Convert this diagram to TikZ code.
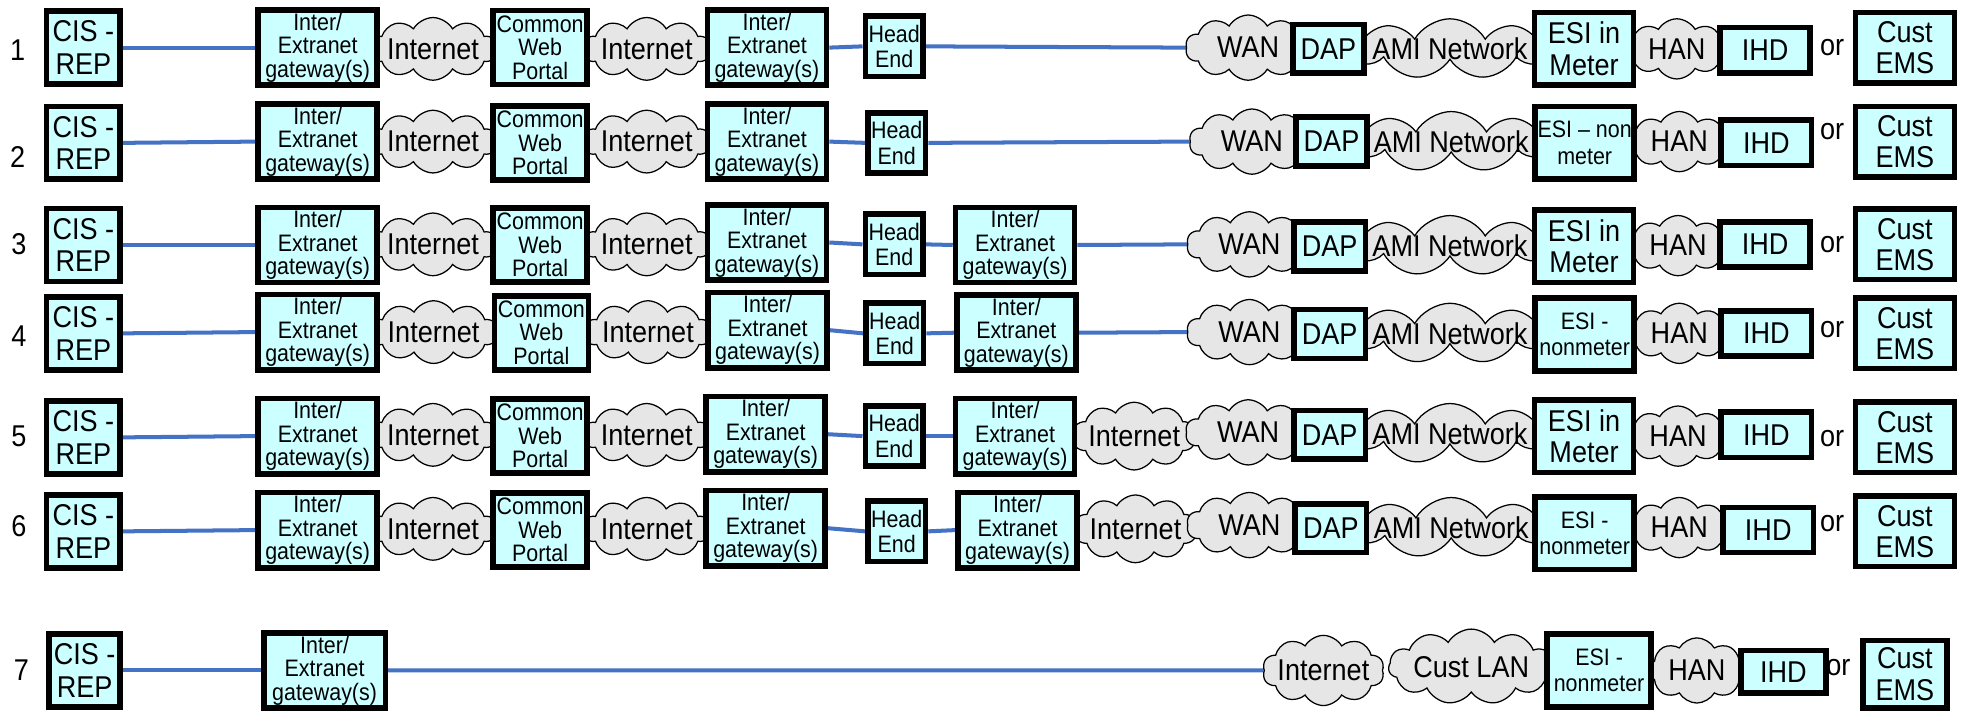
\documentclass[tikz,border=0pt]{standalone}
\usepackage{fontspec}
\setmainfont{Liberation Sans}[FakeStretch=0.9]
\usetikzlibrary{shapes.symbols,backgrounds}
\definecolor{boxcyan}{HTML}{CCFFFF}
\definecolor{cloudgray}{HTML}{E6E6E6}
\definecolor{linkblue}{HTML}{4472C4}
\newcommand{\bigtxt}{\fontsize{24}{26}\selectfont}
\newcommand{\smalltxt}{\fontsize{19}{18.7}\selectfont}
\newcommand{\cl}[1]{\makebox[0pt]{#1}}
\tikzset{
  box/.style={draw=black, line width=4.5pt, fill=boxcyan, inner sep=0pt, align=center},
  cisbox/.style={box, minimum width=59pt, minimum height=58pt, font=\fontsize{24}{26}\selectfont},
  gwbox/.style={box, minimum width=95pt, minimum height=60pt, font=\smalltxt},
  cwpbox/.style={box, minimum width=75pt, minimum height=59pt, font=\smalltxt},
  hebox/.style={box, minimum width=46pt, minimum height=48pt, font=\fontsize{19}{20.5}\selectfont},
  dapbox/.style={box, minimum width=57pt, minimum height=39pt, font=\bigtxt},
  esibox/.style={box, minimum width=79pt, minimum height=58pt, font=\fontsize{24}{25}\selectfont},
  esinm/.style={box, minimum width=79pt, minimum height=58pt, font=\fontsize{19}{21}\selectfont},
  ihdbox/.style={box, minimum width=72pt, minimum height=36pt, font=\bigtxt},
  emsbox/.style={box, minimum width=79pt, minimum height=56pt, font=\fontsize{24}{25}\selectfont},
  net/.style={cloud, cloud puffs=10, cloud puff arc=120, cloud ignores aspect,
    draw=black, line width=1pt, fill=cloudgray, inner sep=0pt, font=\bigtxt},
  inet/.style={net, minimum width=102pt, minimum height=50pt},
  wan/.style={net, minimum width=100pt, minimum height=52pt},
  ami/.style={net, cloud puffs=9, minimum width=158pt, minimum height=48pt},
  han/.style={net, cloud puffs=8, minimum width=78pt, minimum height=48pt},
  plain/.style={inner sep=0pt, font=\bigtxt},
  link/.style={draw=linkblue, line width=3.2pt},
}
\begin{document}
\begin{tikzpicture}[x=1pt, y=-1pt]
\useasboundingbox (0,0) rectangle (1568,569);

% ---------- row 1 ----------
\node[plain] (n1) at (14,40) {1};
\node[inet] (r1i1) at (345.5,39) {\cl{Internet}};
\node[inet] (r1i2) at (516,39) {\cl{Internet}};
\node[wan] (r1wan) at (996,38) {\cl{WAN}};
\node[ami] (r1ami) at (1157,39) {\cl{AMI Network}};
\node[han] (r1han) at (1338,39) {\cl{HAN}};
\node[cisbox] (r1cis) at (66.5,38) {CIS -\\REP};
\node[gwbox] (r1g1) at (253.5,38) {Inter/\\Extranet\\gateway(s)};
\node[cwpbox] (r1cwp) at (431,38) {Common\\Web\\Portal};
\node[gwbox] (r1g2) at (612,38) {Inter/\\Extranet\\gateway(s)};
\node[hebox] (r1he) at (713.5,37) {Head\\End};
\node[dapbox] (r1dap) at (1060,39) {DAP};
\node[esibox] (r1esi) at (1264,39) {ESI in\\Meter};
\node[ihdbox] (r1ihd) at (1408.5,40) {IHD};
\node[plain] (r1or) at (1462,38) {or};
\node[emsbox] (r1ems) at (1520,38) {Cust\\EMS};

% ---------- row 2 ----------
\node[plain] (n2) at (14,125) {2};
\node[inet] (r2i1) at (345.5,113) {\cl{Internet}};
\node[inet] (r2i2) at (516,113) {\cl{Internet}};
\node[wan] (r2wan) at (999,113) {\cl{WAN}};
\node[ami] (r2ami) at (1158,113) {\cl{AMI Network}};
\node[han] (r2han) at (1340,113) {\cl{HAN}};
\node[cisbox] (r2cis) at (66.5,114) {CIS -\\REP};
\node[gwbox] (r2g1) at (253.5,113) {Inter/\\Extranet\\gateway(s)};
\node[cwpbox] (r2cwp) at (431,114) {Common\\Web\\Portal};
\node[gwbox] (r2g2) at (612,113) {Inter/\\Extranet\\gateway(s)};
\node[hebox] (r2he) at (715.5,114) {Head\\End};
\node[dapbox] (r2dap) at (1062.5,113) {DAP};
\node[esinm] (r2esi) at (1264.5,114) {ESI -- non\\meter};
\node[ihdbox] (r2ihd) at (1409.5,114) {IHD};
\node[plain] (r2or) at (1462,105) {or};
\node[emsbox] (r2ems) at (1520,113) {Cust\\EMS};

% ---------- row 3 ----------
\node[plain] (n3) at (15,195) {3};
\node[inet] (r3i1) at (345.5,195) {\cl{Internet}};
\node[inet] (r3i2) at (516,195) {\cl{Internet}};
\node[wan] (r3wan) at (997,195) {\cl{WAN}};
\node[ami] (r3ami) at (1157,196) {\cl{AMI Network}};
\node[han] (r3han) at (1339,196) {\cl{HAN}};
\node[cisbox] (r3cis) at (66.5,195.5) {CIS -\\REP};
\node[gwbox] (r3g1) at (253.5,195.5) {Inter/\\Extranet\\gateway(s)};
\node[cwpbox] (r3cwp) at (431,195.5) {Common\\Web\\Portal};
\node[gwbox] (r3g2) at (612,193.5) {Inter/\\Extranet\\gateway(s)};
\node[hebox] (r3he) at (713.5,195) {Head\\End};
\node[gwbox] (r3g3) at (810,195.5) {Inter/\\Extranet\\gateway(s)};
\node[dapbox] (r3dap) at (1061,196.5) {DAP};
\node[esibox] (r3esi) at (1264,196.5) {ESI in\\Meter};
\node[ihdbox] (r3ihd) at (1408.5,195) {IHD};
\node[plain] (r3or) at (1462,195) {or};
\node[emsbox] (r3ems) at (1520,195) {Cust\\EMS};

% ---------- row 4 ----------
\node[plain] (n4) at (15,268) {4};
\node[inet] (r4i1) at (346,265) {\cl{Internet}};
\node[inet] (r4i2) at (517,265) {\cl{Internet}};
\node[wan] (r4wan) at (997,265) {\cl{WAN}};
\node[ami] (r4ami) at (1157,266) {\cl{AMI Network}};
\node[han] (r4han) at (1340,266) {\cl{HAN}};
\node[cisbox] (r4cis) at (66.5,266) {CIS -\\REP};
\node[gwbox] (r4g1) at (253.5,265) {Inter/\\Extranet\\gateway(s)};
\node[cwpbox] (r4cwp) at (432,265.5) {Common\\Web\\Portal};
\node[gwbox] (r4g2) at (612.5,263.5) {Inter/\\Extranet\\gateway(s)};
\node[hebox] (r4he) at (714,266) {Head\\End};
\node[gwbox] (r4g3) at (811,265.5) {Inter/\\Extranet\\gateway(s)};
\node[dapbox] (r4dap) at (1061,266.5) {DAP};
\node[esinm] (r4esi) at (1264.5,267) {ESI -\\nonmeter};
\node[ihdbox] (r4ihd) at (1409.5,266) {IHD};
\node[plain] (r4or) at (1462,263) {or};
\node[emsbox] (r4ems) at (1520,266) {Cust\\EMS};

% ---------- row 5 ----------
\node[plain] (n5) at (15,348) {5};
\node[inet] (r5i1) at (345.5,347) {\cl{Internet}};
\node[inet] (r5i2) at (516,347) {\cl{Internet}};
\node[inet, minimum width=98pt, minimum height=54pt] (r5i3) at (905,348) {\cl{Internet}};
\node[wan] (r5wan) at (996,345) {\cl{WAN}};
\node[ami] (r5ami) at (1157,346) {\cl{AMI Network}};
\node[han] (r5han) at (1339,348) {\cl{HAN}};
\node[cisbox] (r5cis) at (66.5,349) {CIS -\\REP};
\node[gwbox] (r5g1) at (253.5,348) {Inter/\\Extranet\\gateway(s)};
\node[cwpbox] (r5cwp) at (431,348) {Common\\Web\\Portal};
\node[gwbox] (r5g2) at (611,346.5) {Inter/\\Extranet\\gateway(s)};
\node[hebox] (r5he) at (713.5,348) {Head\\End};
\node[gwbox] (r5g3) at (810,348) {Inter/\\Extranet\\gateway(s)};
\node[dapbox] (r5dap) at (1061,347) {DAP};
\node[esibox] (r5esi) at (1264,348) {ESI in\\Meter};
\node[ihdbox] (r5ihd) at (1409.5,347) {IHD};
\node[plain] (r5or) at (1462,350) {or};
\node[emsbox] (r5ems) at (1520,349) {Cust\\EMS};

% ---------- row 6 ----------
\node[plain] (n6) at (15,420) {6};
\node[inet] (r6i1) at (345.5,422) {\cl{Internet}};
\node[inet] (r6i2) at (516,422) {\cl{Internet}};
\node[inet, minimum width=98pt, minimum height=54pt] (r6i3) at (906,422) {\cl{Internet}};
\node[wan] (r6wan) at (997,419) {\cl{WAN}};
\node[ami] (r6ami) at (1158,421) {\cl{AMI Network}};
\node[han] (r6han) at (1340,421) {\cl{HAN}};
\node[cisbox] (r6cis) at (66.5,424) {CIS -\\REP};
\node[gwbox] (r6g1) at (253.5,423) {Inter/\\Extranet\\gateway(s)};
\node[cwpbox] (r6cwp) at (431,423) {Common\\Web\\Portal};
\node[gwbox] (r6g2) at (611,421.5) {Inter/\\Extranet\\gateway(s)};
\node[hebox] (r6he) at (715.5,424) {Head\\End};
\node[gwbox] (r6g3) at (812,423) {Inter/\\Extranet\\gateway(s)};
\node[dapbox] (r6dap) at (1062,421.5) {DAP};
\node[esinm] (r6esi) at (1264.5,425.5) {ESI -\\nonmeter};
\node[ihdbox] (r6ihd) at (1411,423) {IHD};
\node[plain] (r6or) at (1462,418) {or};
\node[emsbox] (r6ems) at (1520,424) {Cust\\EMS};

% ---------- row 7 ----------
\node[plain] (n7) at (17,535) {7};
\node[inet, minimum width=97pt, minimum height=56pt] (r7inet) at (1056,535) {\cl{Internet}};
\node[net, cloud puffs=11, minimum width=132pt, minimum height=60pt] (r7lan) at (1174,532) {\cl{Cust LAN}};
\node[han, minimum width=76pt, minimum height=52pt] (r7han) at (1354,535) {\cl{HAN}};
\node[cisbox, minimum width=57pt] (r7cis) at (67.5,535) {CIS -\\REP};
\node[gwbox, minimum width=97pt] (r7g1) at (259,535) {Inter/\\Extranet\\gateway(s)};
\node[esinm, minimum width=83pt] (r7esi) at (1276,535) {ESI -\\nonmeter};
\node[ihdbox, minimum width=68pt, minimum height=34pt] (r7ihd) at (1423,536) {IHD};
\node[plain] (r7or) at (1467,533) {or};
\node[emsbox, minimum width=67pt, minimum height=54pt] (r7ems) at (1520,538) {Cust\\EMS};

% ---------- links, under the shapes ----------
\begin{scope}[on background layer]
  \fill[white] (0,0) rectangle (1568,569);
  \foreach \r in {1,...,6} {
    \draw[link] (r\r cis.east) -- (r\r g1.west);
    \draw[link] (r\r g2.east) -- (r\r he.west);
  }
  \draw[link] (r1he.east) -- (r1wan.west);
  \draw[link] (r2he.east) -- (r2wan.west);
  \draw[link] (r3he.east) -- (r3g3.west);
  \draw[link] (r3g3.east) -- (r3wan.west);
  \draw[link] (r4he.east) -- (r4g3.west);
  \draw[link] (r4g3.east) -- (r4wan.west);
  \draw[link] (r5he.east) -- (r5g3.west);
  \draw[link] (r6he.east) -- (r6g3.west);
  \draw[link] (r7cis.east) -- (r7g1.west);
  \draw[link] (r7g1.east) -- (r7inet.west);
\end{scope}
\end{tikzpicture}
\end{document}
